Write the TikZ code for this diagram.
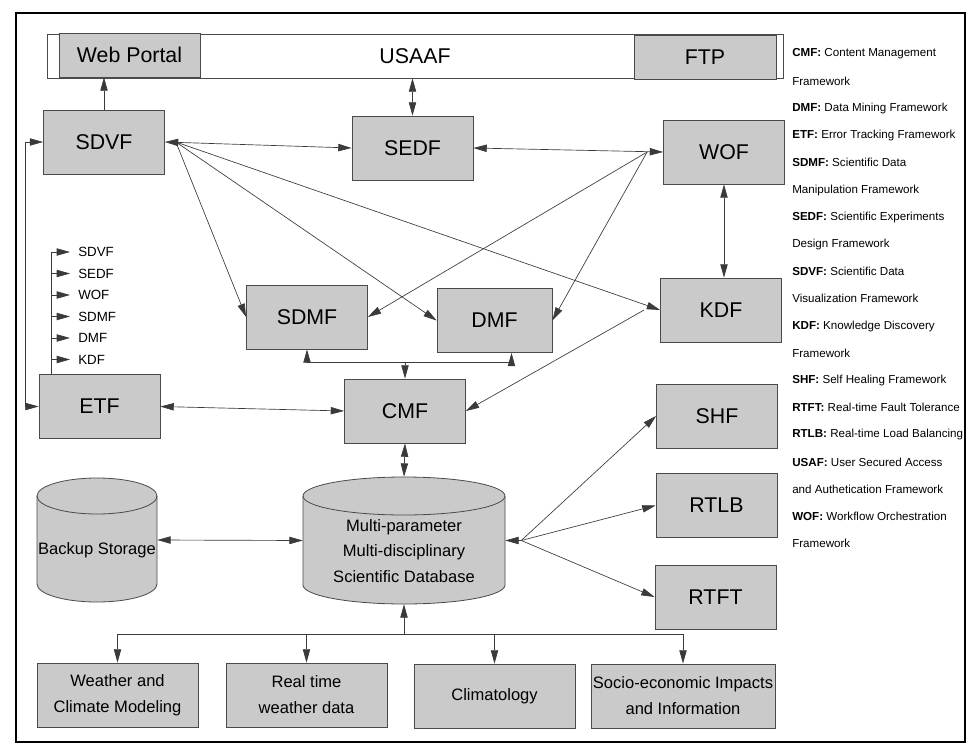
\documentclass[tikz,border=0pt]{standalone}
\usepackage{fontspec}
\setmainfont{Liberation Sans}
\usetikzlibrary{arrows.meta}

\definecolor{BoxGray}{HTML}{CACACA}
\definecolor{EdgeGray}{HTML}{4A4A4A}
\definecolor{LineGray}{HTML}{3A3A3A}

\begin{document}
\begin{tikzpicture}[x=0.75pt,y=-0.75pt,
    >={Triangle[length=10pt,width=5.5pt]},
    fwbox/.style={draw=EdgeGray,fill=BoxGray,line width=0.6pt,minimum width=90.75pt,
      minimum height=48pt,font=\fontsize{16}{19}\selectfont},
    databox/.style={draw=EdgeGray,fill=BoxGray,line width=0.6pt,minimum width=120.75pt,
      minimum height=48pt,align=center,font=\fontsize{12.4}{19.5}\selectfont},
    storefill/.style={draw=EdgeGray,fill=BoxGray,line width=0.6pt},
    storetxt/.style={inner sep=0pt,font=\fontsize{12.4}{19}\selectfont},
    link/.style={draw=LineGray,line width=0.5pt},
    legtxt/.style={anchor=west,inner sep=0pt,font=\fontsize{8.7}{11}\selectfont},
    outtxt/.style={anchor=west,inner xsep=6pt,inner ysep=0pt,font=\fontsize{10}{12}\selectfont}]

  \useasboundingbox (0,0) rectangle (968,746);
  \draw[line width=1.5pt] (16,13) rectangle (965,742);

  % ===== Barra superior =====
  \node[draw=EdgeGray,fill=white,line width=0.6pt,minimum width=552pt,minimum height=33pt,
        font=\fontsize{16}{19}\selectfont] (usaaf) at (415,56) {USAAF};
  \node[fwbox,minimum width=105.75pt,minimum height=33pt] (web) at (129.5,55) {Web Portal};
  \node[fwbox,minimum width=106.5pt,minimum height=33pt] (ftp) at (705,57) {FTP};

  % ===== Frameworks =====
  \node[fwbox] (sdvf) at (104,142) {SDVF};
  \node[fwbox] (sedf) at (412.5,148) {SEDF};
  \node[fwbox] (wof)  at (724,152) {WOF};
  \node[fwbox] (kdf)  at (721,310) {KDF};
  \node[fwbox] (sdmf) at (307,317) {SDMF};
  \node[fwbox,minimum width=86.25pt] (dmf) at (494.5,320.5) {DMF};
  \node[fwbox] (cmf)  at (405,411) {CMF};
  \node[fwbox] (etf)  at (99.5,406.5) {ETF};
  \node[fwbox] (shf)  at (717,416) {SHF};
  \node[fwbox] (rtlb) at (716.5,505.5) {RTLB};
  \node[fwbox] (rtft) at (715.5,597) {RTFT};

  % ===== Almacenamiento (cilindros) =====
  \filldraw[storefill] (37,496) -- (37,584)
      arc[start angle=180,end angle=360,x radius=45pt,y radius=13.5pt] -- (157,496)
      arc[start angle=0,end angle=180,x radius=45pt,y radius=13.5pt] -- cycle;
  \draw[storefill,fill=none] (37,496) arc[start angle=180,end angle=360,x radius=45pt,y radius=13.5pt];
  \filldraw[storefill] (303,496) -- (303,585)
      arc[start angle=180,end angle=360,x radius=75.75pt,y radius=14.25pt] -- (505,496)
      arc[start angle=0,end angle=180,x radius=75.75pt,y radius=14.25pt] -- cycle;
  \draw[storefill,fill=none] (303,496) arc[start angle=180,end angle=360,x radius=75.75pt,y radius=14.25pt];

  \node[storetxt,minimum width=90pt,minimum height=93pt] (backup) at (97,540)
       {\raisebox{0pt}[\dimexpr\height+15pt\relax][\depth]{Backup Storage}};
  \node[storetxt,minimum width=151.5pt,minimum height=95.25pt] (db) at (404,540.5)
       {\raisebox{0pt}[\dimexpr\height+17pt\relax][\depth]{\begin{tabular}{@{}c@{}}Multi-parameter\\
        Multi-disciplinary\\Scientific Database\end{tabular}}};

  % ===== Datos =====
  \node[databox] (wcm)   at (117.5,695) {Weather and\\Climate Modeling};
  \node[databox] (rtw)   at (306.5,695) {Real time\\weather data};
  \node[databox] (clim)  at (494.5,696) {Climatology};
  \node[databox,minimum width=138pt,inner xsep=1pt] (socio) at (683,696) {Socio-economic Impacts\\and Information};

  % ===== Conexiones =====
  \coordinate (sdvfhub) at ([xshift=8.25pt]sdvf.east);
  \coordinate (wofhub)  at ([xshift=-12pt]wof.west);
  \coordinate (kdfhub)  at ([xshift=-12pt]kdf.west);
  \coordinate (cmfjoin) at ([yshift=12pt]cmf.north);
  \coordinate (dbhub)   at ([xshift=12pt]db.east);
  \coordinate (dbbus)   at ([yshift=-22.5pt]db.south);

  \draw[link,->]  (sdvf.north) -- (sdvf.north |- web.south);
  \draw[link,<->] (sedf.north) -- (sedf.north |- usaaf.south);
  \draw[link,<->] (sdvf.east) -- (sedf.west);
  \draw[link,<->] (sedf.east) -- (wof.west);
  \draw[link,<->] (wof.south) -- (wof.south |- kdf.north);
  \draw[link,<->] (sdvf.west) -- ++(-18,0) |- (etf.west);

  \draw[link,->] (sdvfhub) -- (sdmf.west);
  \draw[link,->] (sdvfhub) -- (dmf.west);
  \draw[link,->] (sdvfhub) -- (kdf.west);
  \draw[link,->] (wofhub) -- (sdmf.east);
  \draw[link,->] (wofhub) -- (dmf.east);
  \draw[link,->] (kdfhub) -- (cmf.east);

  \draw[link,->] (cmfjoin) -- (cmf.north);
  \draw[link,->] (cmfjoin) -| (sdmf.south);
  \draw[link,->] (cmfjoin) -| ([xshift=12.75pt]dmf.south);

  \draw[link,<->] (etf.east) -- (cmf.west);
  \draw[link,<->] (cmf.south) -- (db.north);
  \draw[link,<->] (backup.east) -- (db.west);

  \draw[link,->] (dbhub) -- (db.east);
  \foreach \n in {shf,rtlb,rtft}
    \draw[link,->] (dbhub) -- (\n.west);

  \draw[link,->] (dbbus) -- (db.south);
  \foreach \n in {wcm,rtw,clim,socio}
    \draw[link,->] (dbbus) -| (\n.north);

  % ===== Salidas de ETF =====
  \coordinate (etfstem) at ([xshift=9.75pt]etf.north west);
  \foreach \lbl [count=\i] in {SDVF,SEDF,WOF,SDMF,DMF,KDF}{
    \node[outtxt] (out\i) at (70,{252+21.5*(\i-1)}) {\lbl};
    \draw[link,->] (etfstem |- out\i.west) -- (out\i.west);
  }
  \draw[link] (etfstem) -- (etfstem |- out1.west);

  % ===== Leyenda =====
  \foreach \lbl [count=\i] in {\textbf{CMF:} Content Management, Framework,
      \textbf{DMF:} Data Mining Framework, \textbf{ETF:} Error Tracking Framework,
      \textbf{SDMF:} Scientific Data, Manipulation Framework,
      \textbf{SEDF:} Scientific Experiments, Design Framework,
      \textbf{SDVF:} Scientific Data, Visualization Framework,
      \textbf{KDF:} Knowledge Discovery, Framework,
      \textbf{SHF:} Self Healing Framework, \textbf{RTFT:} Real-time Fault Tolerance,
      \textbf{RTLB:} Real-time Load Balancing, \textbf{USAF:} User Secured Access,
      and Authetication Framework, \textbf{WOF:} Workflow Orchestration, Framework}{
    \node[legtxt] (leg\i) at (792,{54+27.2*(\i-1)}) {\lbl};
  }

\end{tikzpicture}
\end{document}
